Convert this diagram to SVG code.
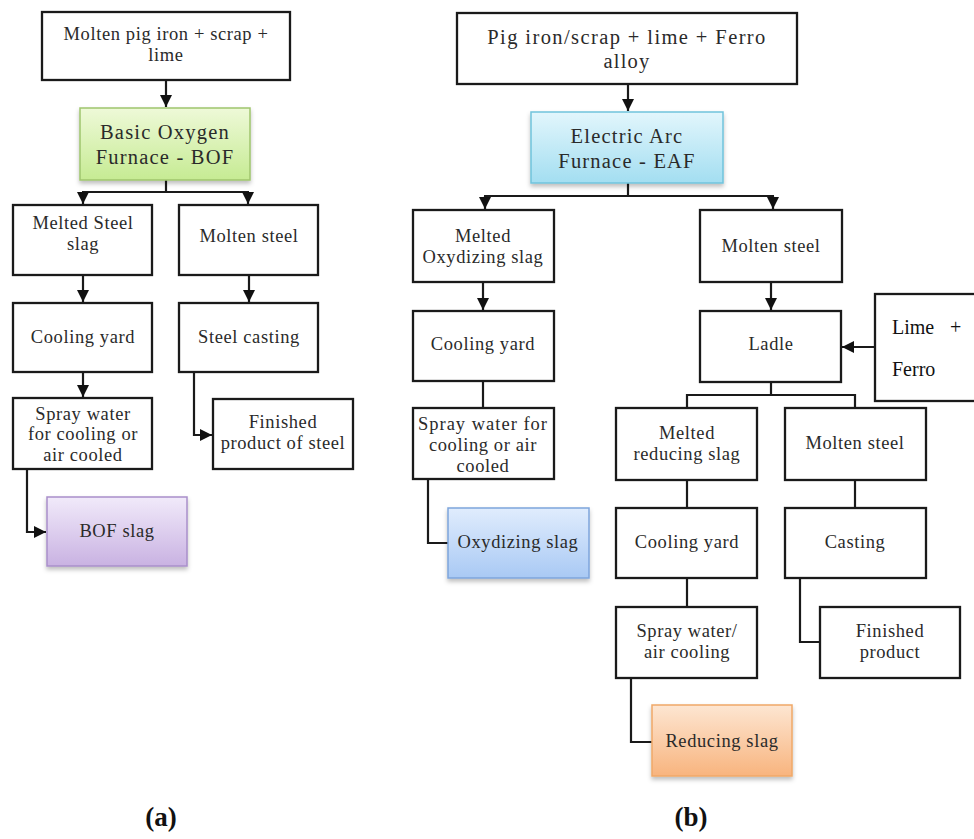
<svg xmlns="http://www.w3.org/2000/svg" width="974" height="839" viewBox="0 0 974 839">
<defs>
<style>
.box{fill:#fff;stroke:#1a1a1a;stroke-width:2.3}
.t{font-family:"Liberation Serif","Times New Roman",serif;font-size:18.5px;fill:#2a2a2a;text-anchor:middle;letter-spacing:0.6px}
.tb{font-family:"Liberation Serif","Times New Roman",serif;font-size:20.5px;fill:#2a2a2a;text-anchor:middle;letter-spacing:1.2px}
.lf{font-family:"Liberation Serif",serif;font-size:20px;fill:#111}
.lab{font-family:"Liberation Serif",serif;font-size:27px;font-weight:bold;fill:#111;text-anchor:middle}
.c{fill:none;stroke:#1a1a1a;stroke-width:2.2}
</style>
<marker id="ah" viewBox="0 0 10 10" refX="10" refY="5" markerWidth="5.5" markerHeight="5.5" orient="auto" markerUnits="strokeWidth">
<path d="M0,0 L10,5 L0,10 Z" fill="#111"/>
</marker>
<linearGradient id="gG" x1="0" y1="0" x2="0" y2="1"><stop offset="0" stop-color="#eef9d8"/><stop offset="1" stop-color="#c6eb93"/></linearGradient>
<linearGradient id="gB" x1="0" y1="0" x2="0" y2="1"><stop offset="0" stop-color="#e2f6fc"/><stop offset="1" stop-color="#a3def1"/></linearGradient>
<linearGradient id="gP" x1="0" y1="0" x2="0" y2="1"><stop offset="0" stop-color="#f1eafa"/><stop offset="1" stop-color="#c9b2e2"/></linearGradient>
<linearGradient id="gL" x1="0" y1="0" x2="0" y2="1"><stop offset="0" stop-color="#e0ecfd"/><stop offset="1" stop-color="#a9c9f4"/></linearGradient>
<linearGradient id="gO" x1="0" y1="0" x2="0" y2="1"><stop offset="0" stop-color="#fde6d2"/><stop offset="1" stop-color="#f8b47e"/></linearGradient>
<filter id="sh" x="-10%" y="-10%" width="125%" height="130%"><feDropShadow dx="0" dy="3" stdDeviation="2" flood-color="#000" flood-opacity="0.25"/></filter>
</defs>
<rect width="974" height="839" fill="#fff"/>

<g id="connectors">
<!-- (a) -->
<line class="c" x1="166" y1="80" x2="166" y2="107" marker-end="url(#ah)"/>
<polyline class="c" points="166,180 166,192"/>
<line class="c" x1="82" y1="192" x2="249" y2="192"/>
<line class="c" x1="83" y1="192" x2="83" y2="204" marker-end="url(#ah)"/>
<line class="c" x1="248" y1="192" x2="248" y2="204" marker-end="url(#ah)"/>
<line class="c" x1="83" y1="275" x2="83" y2="302" marker-end="url(#ah)"/>
<line class="c" x1="249" y1="275" x2="249" y2="302" marker-end="url(#ah)"/>
<line class="c" x1="83" y1="372" x2="83" y2="397" marker-end="url(#ah)"/>
<polyline class="c" points="194,372 194,435 212,435" marker-end="url(#ah)"/>
<polyline class="c" points="27,469 27,532 46,532" marker-end="url(#ah)"/>
<!-- (b) -->
<line class="c" x1="628" y1="84" x2="628" y2="111" marker-end="url(#ah)"/>
<polyline class="c" points="628,183 628,196"/>
<line class="c" x1="484" y1="196" x2="774" y2="196"/>
<line class="c" x1="485" y1="196" x2="485" y2="209" marker-end="url(#ah)"/>
<line class="c" x1="773" y1="196" x2="773" y2="209" marker-end="url(#ah)"/>
<line class="c" x1="483" y1="282" x2="483" y2="310" marker-end="url(#ah)"/>
<line class="c" x1="771" y1="282" x2="771" y2="310" marker-end="url(#ah)"/>
<line class="c" x1="483" y1="381" x2="483" y2="408"/>
<polyline class="c" points="428,479 428,543 448,543"/>
<line class="c" x1="875" y1="347" x2="842" y2="347" marker-end="url(#ah)"/>
<polyline class="c" points="771,382 771,395"/>
<polyline class="c" points="687,408 687,395 855,395 855,408"/>
<line class="c" x1="687" y1="480" x2="687" y2="508"/>
<line class="c" x1="855" y1="480" x2="855" y2="508"/>
<line class="c" x1="687" y1="578" x2="687" y2="607"/>
<polyline class="c" points="800,578 800,642 819,642"/>
<polyline class="c" points="631,678 631,742 652,742"/>
</g>

<!-- (a) nodes -->
<g id="a_top"><rect class="box" x="42" y="12" width="248" height="68"/>
<text class="t" x="166" y="40">Molten pig iron + scrap +</text><text class="t" x="166" y="61">lime</text></g>
<g id="a_bof"><rect x="80" y="108" width="170" height="72" fill="url(#gG)" stroke="#9fc56d" stroke-width="1.5" filter="url(#sh)"/>
<text class="tb" x="165" y="139">Basic Oxygen</text><text class="tb" x="165" y="164">Furnace - BOF</text></g>
<g id="a_slag"><rect class="box" x="13" y="205" width="139" height="70"/>
<text class="t" x="83" y="229">Melted Steel</text><text class="t" x="83" y="250">slag</text></g>
<g id="a_molten"><rect class="box" x="179" y="205" width="139" height="70"/>
<text class="t" x="249" y="242">Molten steel</text></g>
<g id="a_cool"><rect class="box" x="13" y="303" width="139" height="69"/>
<text class="t" x="83" y="343">Cooling yard</text></g>
<g id="a_cast"><rect class="box" x="179" y="303" width="139" height="69"/>
<text class="t" x="249" y="343">Steel casting</text></g>
<g id="a_spray"><rect class="box" x="13" y="398" width="139" height="71"/>
<text class="t" x="83" y="420">Spray water</text><text class="t" x="83" y="440">for cooling or</text><text class="t" x="83" y="461">air cooled</text></g>
<g id="a_finished"><rect class="box" x="213" y="399" width="140" height="70"/>
<text class="t" x="283" y="428">Finished</text><text class="t" x="283" y="449">product of steel</text></g>
<g id="a_bofslag"><rect x="47" y="497" width="140" height="69" fill="url(#gP)" stroke="#a98fca" stroke-width="1.5" filter="url(#sh)"/>
<text class="t" x="117" y="537">BOF slag</text></g>

<!-- (b) nodes -->
<g id="b_top"><rect class="box" x="457" y="13" width="340" height="71"/>
<text class="tb" x="627" y="44" style="letter-spacing:1.4px">Pig iron/scrap + lime + Ferro</text><text class="tb" x="627" y="68">alloy</text></g>
<g id="b_eaf"><rect x="531" y="112" width="192" height="71" fill="url(#gB)" stroke="#70c3dc" stroke-width="1.5" filter="url(#sh)"/>
<text class="tb" x="627" y="143">Electric Arc</text><text class="tb" x="627" y="168">Furnace - EAF</text></g>
<g id="b_oxslag"><rect class="box" x="413" y="210" width="141" height="72"/>
<text class="t" x="483" y="242">Melted</text><text class="t" x="483" y="263">Oxydizing slag</text></g>
<g id="b_molten"><rect class="box" x="700" y="210" width="142" height="72"/>
<text class="t" x="771" y="252">Molten steel</text></g>
<g id="b_cool"><rect class="box" x="413" y="311" width="141" height="70"/>
<text class="t" x="483" y="350">Cooling yard</text></g>
<g id="b_ladle"><rect class="box" x="700" y="311" width="141" height="71"/>
<text class="t" x="771" y="350">Ladle</text></g>
<g id="b_lime"><rect class="box" x="875" y="294" width="110" height="107"/>
<text class="lf" x="892" y="334">Lime<tspan x="950">+</tspan></text><text class="lf" x="892" y="376">Ferro</text></g>
<g id="b_spray"><rect class="box" x="413" y="408" width="141" height="71"/>
<text class="t" x="483" y="430" style="letter-spacing:1px">Spray water for</text><text class="t" x="483" y="451">cooling or air</text><text class="t" x="483" y="472">cooled</text></g>
<g id="b_oxyslag"><rect x="448" y="508" width="141" height="70" fill="url(#gL)" stroke="#7ea5dc" stroke-width="1.5" filter="url(#sh)"/>
<text class="t" x="518" y="548">Oxydizing slag</text></g>
<g id="b_redslag"><rect class="box" x="616" y="408" width="141" height="72"/>
<text class="t" x="687" y="439">Melted</text><text class="t" x="687" y="460">reducing slag</text></g>
<g id="b_molten2"><rect class="box" x="785" y="408" width="141" height="72"/>
<text class="t" x="855" y="449">Molten steel</text></g>
<g id="b_cool2"><rect class="box" x="616" y="508" width="141" height="70"/>
<text class="t" x="687" y="548">Cooling yard</text></g>
<g id="b_casting"><rect class="box" x="785" y="508" width="141" height="70"/>
<text class="t" x="855" y="548">Casting</text></g>
<g id="b_spray2"><rect class="box" x="616" y="607" width="141" height="71"/>
<text class="t" x="687" y="637">Spray water/</text><text class="t" x="687" y="658">air cooling</text></g>
<g id="b_finished"><rect class="box" x="820" y="607" width="140" height="71"/>
<text class="t" x="890" y="637">Finished</text><text class="t" x="890" y="658">product</text></g>
<g id="b_reducing"><rect x="652" y="705" width="140" height="71" fill="url(#gO)" stroke="#f0a868" stroke-width="1.5" filter="url(#sh)"/>
<text class="t" x="722" y="747">Reducing slag</text></g>

<g id="labels">
<text class="lab" x="161" y="826">(a)</text>
<text class="lab" x="691" y="826">(b)</text>
</g>
</svg>
